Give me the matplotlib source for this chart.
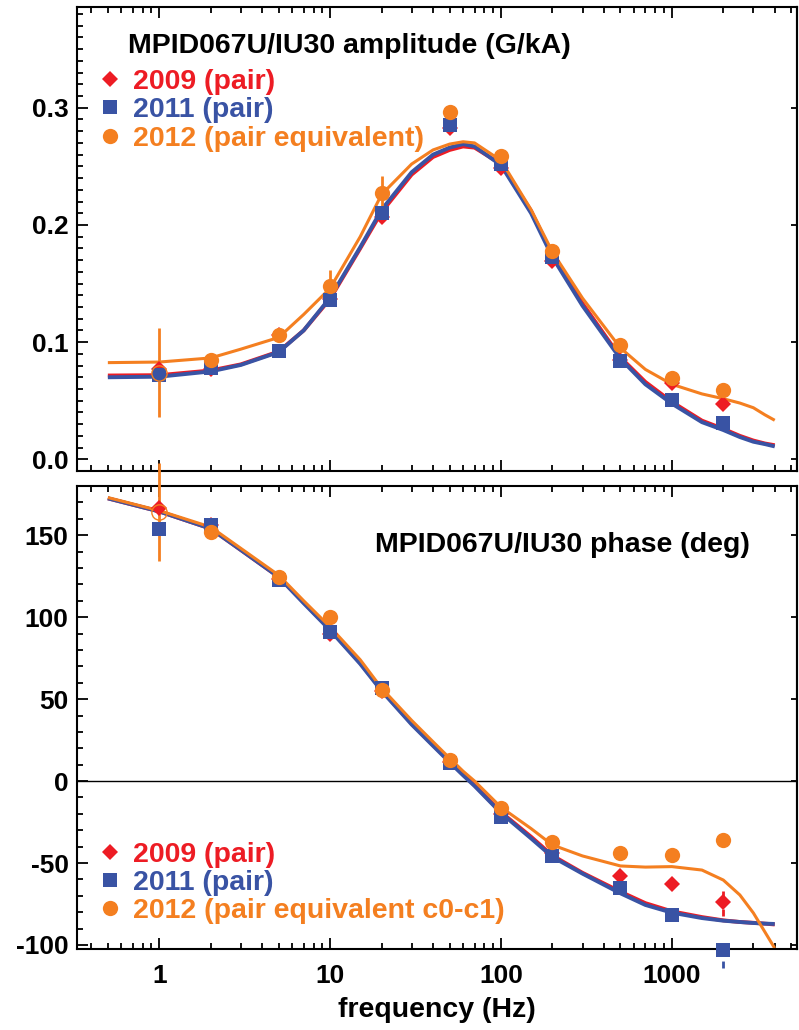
import matplotlib.pyplot as plt
from matplotlib.ticker import (FixedLocator, FormatStrFormatter, LogLocator, MultipleLocator,
                               NullFormatter, NullLocator)

plt.rcParams['font.family'] = ['Liberation Sans', 'DejaVu Sans']
plt.rcParams['font.weight'] = 'bold'
plt.rcParams['axes.unicode_minus'] = False

RED = '#ED1C24'
BLUE = '#3953A4'
ORANGE = '#F47F20'

# measured points
freq = [1, 2, 5, 10, 20, 50, 100, 200, 500, 1000, 2000]

amp_2009 = [0.0767, 0.077, 0.106, 0.137, 0.207, 0.2825, 0.249, 0.169, 0.085, 0.065, 0.0475]
amp_2011 = [0.072, 0.0775, 0.0925, 0.136, 0.210, 0.285, 0.2517, 0.1725, 0.084, 0.0508, 0.0308]
amp_2012 = [0.074, 0.085, 0.106, 0.1475, 0.2275, 0.2967, 0.259, 0.1775, 0.0975, 0.069, 0.059]
amp_2012_err = [0.038, 0, 0, 0.014, 0.014, 0, 0, 0, 0, 0, 0]

ph_2009 = [166.5, 156, 123, 90, 55, 11.5, -20, -44, -58, -63, -74]
ph_2009_err = [0, 0, 0, 0, 0, 0, 0, 0, 0, 0, 8.5]
ph_2011 = [154, 156, 122.6, 91, 56.7, 11, -22, -45.7, -65, -82, -103]
ph_2011_err = [0, 0, 0, 0, 0, 0, 0, 0, 0, 0, 11]
ph_2012 = [164, 152, 124.4, 100, 55.5, 12.8, -16.5, -37, -44, -45, -36]
ph_2012_err = [30, 0, 0, 0, 0, 0, 0, 0, 0, 0, 0]

# fitted response curves
fit_freq = [0.5, 1, 2, 3, 5, 7, 10, 15, 20, 30, 40, 50, 60, 70, 100, 150, 200,
            300, 500, 700, 1000, 1500, 2000, 2500, 3000, 3500, 4000]

amp_fit_2009 = [0.0715, 0.0718, 0.0758, 0.081, 0.092, 0.110, 0.137, 0.18, 0.211, 0.243,
                0.258, 0.264, 0.267, 0.266, 0.252, 0.212, 0.174, 0.133, 0.087, 0.066,
                0.049, 0.033, 0.026, 0.020, 0.016, 0.0135, 0.012]
amp_fit_2011 = [0.070, 0.0705, 0.075, 0.0805, 0.0915, 0.110, 0.138, 0.181, 0.213, 0.245,
                0.260, 0.266, 0.269, 0.267, 0.251, 0.210, 0.1725, 0.131, 0.0858, 0.064,
                0.0475, 0.0317, 0.025, 0.019, 0.015, 0.013, 0.011]
amp_fit_2012 = [0.0825, 0.083, 0.0865, 0.094, 0.104, 0.1236, 0.146, 0.19, 0.226, 0.252,
                0.264, 0.269, 0.271, 0.270, 0.255, 0.213, 0.177, 0.1375, 0.095, 0.0767,
                0.064, 0.0558, 0.0517, 0.048, 0.044, 0.038, 0.0333]

ph_fit_2009 = [172.5, 164.5, 154, 141, 124.5, 109, 92.5, 72, 55.5, 35, 22, 12, 4, -2.5,
               -19, -34, -45.5, -56, -67.5, -74.5, -79.5, -83, -85, -86, -86.5, -87, -87.5]
ph_fit_2011 = [172.5, 164.5, 154, 141, 124.5, 108.5, 92, 71.5, 55, 34.5, 21.5, 11.5, 3.5, -3,
               -19.5, -35, -46.3, -56.5, -68.5, -75.6, -80.3, -83.6, -85.2, -86, -86.6, -87, -87.2]
ph_fit_2012 = [173, 165, 155, 142, 125.6, 110, 94, 74, 56.7, 37, 24, 14, 6, 0,
               -16, -29, -39, -45.7, -51.8, -52.5, -52.2, -54.3, -60.4, -69.5, -80.5, -92, -102]

labels_amp = ['2009 (pair)', '2011 (pair)', '2012 (pair equivalent)']
labels_ph = ['2009 (pair)', '2011 (pair)', '2012 (pair equivalent c0-c1)']
COLORS = [RED, BLUE, ORANGE]


def style_axis(ax, ymajor, yminor, ylim, show_xlabels):
    ax.set_xscale('log')
    ax.set_xlim(0.33, 5400)
    ax.set_ylim(*ylim)
    ax.xaxis.set_major_locator(FixedLocator([1, 10, 100, 1000]))
    ax.xaxis.set_major_formatter(FormatStrFormatter('%g'))
    ax.xaxis.set_minor_locator(LogLocator(base=10, subs=range(2, 10), numticks=20))
    ax.xaxis.set_minor_formatter(NullFormatter())
    ax.yaxis.set_major_locator(MultipleLocator(ymajor))
    ax.yaxis.set_minor_locator(MultipleLocator(yminor))
    ax.tick_params(which='both', direction='in', top=True, right=False, width=1.3,
                   labelsize=19, pad=6)
    ax.tick_params(axis='x', which='both', pad=11)
    ax.tick_params(which='major', length=8)
    ax.tick_params(which='minor', length=4.5)
    if not show_xlabels:
        ax.tick_params(labelbottom=False)
    for s in ax.spines.values():
        s.set_linewidth(1.5)
    # short major ticks only on the right side
    right = ax.secondary_yaxis('right')
    right.yaxis.set_major_locator(MultipleLocator(ymajor))
    right.yaxis.set_minor_locator(NullLocator())
    right.tick_params(direction='in', length=4, width=1.3, labelright=False)
    right.spines['right'].set_linewidth(1.5)


def draw_panel(ax, data, errs, fits):
    for fit, c, lw in zip(fits, COLORS, [2.8, 2.8, 2.2]):
        ax.plot(fit_freq, fit, color=c, lw=lw, solid_capstyle='butt', zorder=2)
    handles = []
    for vals, err, c, m, ms, dash in zip(data, errs, COLORS, ['D', 's', 'o'],
                                         [7.8, 10.5, 11], [True, True, False]):
        eb = ax.errorbar(freq, vals, yerr=err, fmt='none', ecolor=c, elinewidth=2,
                         zorder=3)
        for lc in eb.lines[2]:
            lc.set_clip_on(False)
            if dash:
                lc.set_linestyle((0, (2.5, 4)))
        if m == 'o':
            # the 1 Hz point of the 2012 set is shown open
            ax.plot(freq[:1], vals[:1], ls='none', marker='o', ms=ms, mfc='none',
                    mec=c, mew=1.0, zorder=5)
            h, = ax.plot(freq[1:], vals[1:], ls='none', marker=m, ms=ms, color=c,
                         mew=0, clip_on=False, zorder=4)
        else:
            h, = ax.plot(freq, vals, ls='none', marker=m, ms=ms, color=c, mew=0,
                         clip_on=False, zorder=4)
        handles.append(h)
    return handles


def add_legend(ax, handles, labels, top):
    ax.legend(handles, labels, loc='upper left', bbox_to_anchor=(0.028, top),
              frameon=False, labelcolor=COLORS, handlelength=0.9, handletextpad=0.35,
              labelspacing=0.08, borderpad=0.0, borderaxespad=0.0, numpoints=1,
              prop={'weight': 'bold', 'size': 20.5})


fig = plt.figure(figsize=(7.99, 10.30), dpi=100)
ax1 = fig.add_axes([0.0964, 0.5427, 0.9011, 0.4505])
ax2 = fig.add_axes([0.0964, 0.0786, 0.9011, 0.4495])

# amplitude
h1 = draw_panel(ax1, [amp_2009, amp_2011, amp_2012], [None, None, amp_2012_err],
                [amp_fit_2009, amp_fit_2011, amp_fit_2012])
style_axis(ax1, 0.1, 0.01, (-0.01, 0.386), False)
ax1.yaxis.set_major_formatter(FormatStrFormatter('%.1f'))
ax1.text(0.0708, 0.901, 'MPID067U/IU30 amplitude (G/kA)', transform=ax1.transAxes,
         fontsize=20.5, fontweight='bold', va='baseline')
add_legend(ax1, h1, labels_amp, 0.866)

# phase
h2 = draw_panel(ax2, [ph_2009, ph_2011, ph_2012],
                [ph_2009_err, ph_2011_err, ph_2012_err],
                [ph_fit_2009, ph_fit_2011, ph_fit_2012])
ax2.axhline(0, color='black', lw=1.0, zorder=1)
style_axis(ax2, 50, 10, (-102.5, 180), True)
ax2.text(0.414, 0.8575, 'MPID067U/IU30 phase (deg)', transform=ax2.transAxes,
         fontsize=20.5, fontweight='bold', va='baseline')
add_legend(ax2, h2, labels_ph, 0.232)
ax2.set_xlabel('frequency (Hz)', fontsize=20.5, fontweight='bold', labelpad=6)

fig.savefig('out.png', dpi=100)
